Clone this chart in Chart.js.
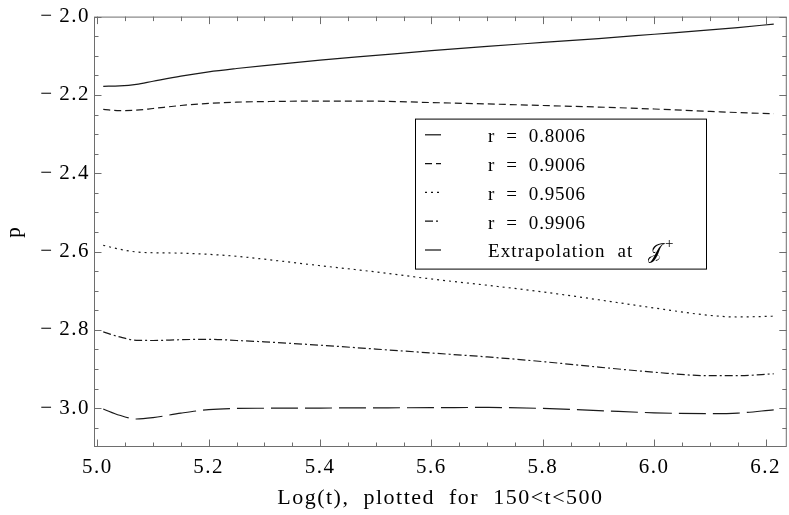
<!DOCTYPE html>
<html>
<head>
<meta charset="utf-8">
<script src="https://cdn.jsdelivr.net/npm/chart.js@4.4.1/dist/chart.umd.min.js"></script>
<style>
  html, body { margin: 0; padding: 0; background: #fff; }
</style>
</head>
<body>
<canvas id="pChart" width="789" height="515"></canvas>
<script>
// Log(t) sample points, 150 < t < 500
const logT = [5.0106, 5.04, 5.07, 5.10, 5.15, 5.20, 5.25, 5.30, 5.40, 5.50, 5.60, 5.70, 5.80, 5.90, 6.00, 6.10, 6.15, 6.2146]

// p at each radius
const pR08006 = [-2.178, -2.177, -2.173, -2.165, -2.152, -2.141, -2.1325, -2.125, -2.111, -2.099, -2.087, -2.076, -2.066, -2.056, -2.045, -2.034, -2.028, -2.019]
const pR09006 = [-2.237, -2.240, -2.239, -2.2347, -2.227, -2.2215, -2.2185, -2.217, -2.2157, -2.216, -2.2195, -2.223, -2.227, -2.231, -2.236, -2.242, -2.245, -2.248]
const pR09506 = [-2.584, -2.594, -2.601, -2.603, -2.604, -2.607, -2.612, -2.6195, -2.636, -2.652, -2.670, -2.686, -2.703, -2.723, -2.744, -2.763, -2.767, -2.765]
const pR09906 = [-2.805, -2.818, -2.8265, -2.827, -2.825, -2.824, -2.827, -2.8305, -2.839, -2.849, -2.859, -2.869, -2.881, -2.895, -2.908, -2.917, -2.917, -2.912]
const pScri = [-3.002, -3.018, -3.0275, -3.024, -3.0125, -3.0035, -3.0005, -3.000, -2.9995, -2.999, -2.9985, -2.998, -3.0005, -3.006, -3.0117, -3.014, -3.0125, -3.004]

const seriesLabels = ['r  =  0.8006', 'r  =  0.9006', 'r  =  0.9506', 'r  =  0.9906', 'Extrapolation  at  ']
const seriesDashes = [[], [7, 4], [2, 4], [8, 3, 2, 3], [27, 7]]
const seriesValues = [pR08006, pR09006, pR09506, pR09906, pScri]

const serif = '"Liberation Serif", "Times New Roman", serif'

function toPoints(values) {
  return logT.map((x, i) => ({ x: x, y: values[i] }))
}

// Mathematica-ish text is a bit wider than plain Times
const wideText = {
  id: 'wideText',
  beforeUpdate(chart) { chart.ctx.letterSpacing = '1.5px' },
  beforeDraw(chart) { chart.ctx.letterSpacing = '1.5px' }
}

// frame on all four sides with inward major/minor ticks
const frameTicks = {
  id: 'frameTicks',
  afterDatasetsDraw(chart) {
    const { ctx, chartArea: a, scales: { x, y } } = chart
    ctx.save()
    ctx.strokeStyle = '#6e6e6e'
    ctx.lineWidth = 1
    ctx.setLineDash([])
    ctx.strokeRect(a.left + 0.5, a.top + 0.5, a.right - a.left - 1, a.bottom - a.top - 1)
    ctx.beginPath()
    for (let i = 0; i <= 24; i++) {
      const px = Math.round(x.getPixelForValue(5.0 + i * 0.05)) + 0.5
      const len = i % 4 === 0 ? 7.5 : 4.5
      ctx.moveTo(px, a.bottom); ctx.lineTo(px, a.bottom - len)
      ctx.moveTo(px, a.top); ctx.lineTo(px, a.top + len)
    }
    for (let i = 0; i <= 21; i++) {
      const py = Math.round(y.getPixelForValue(-3.05 + i * 0.05)) + 0.5
      const len = (i - 1) % 4 === 0 ? 7.5 : 4.5
      ctx.moveTo(a.left, py); ctx.lineTo(a.left + len, py)
      ctx.moveTo(a.right, py); ctx.lineTo(a.right - len, py)
    }
    ctx.stroke()
    ctx.restore()
  }
}

// boxed legend inside the plot
const boxLegend = {
  id: 'boxLegend',
  afterDraw(chart) {
    const { ctx, chartArea: a } = chart
    const left = a.left + 321, top = a.top + 102, w = 291, h = 150
    ctx.save()
    ctx.fillStyle = '#fff'
    ctx.fillRect(left, top, w, h)
    ctx.strokeStyle = '#000'
    ctx.lineWidth = 1
    ctx.setLineDash([])
    ctx.strokeRect(left + 0.5, top + 0.5, w, h)
    chart.data.datasets.forEach((ds, i) => {
      const cy = top + 18.7 + i * 28.8
      ctx.strokeStyle = '#111'
      ctx.lineWidth = 1.2
      ctx.setLineDash(ds.borderDash)
      ctx.beginPath()
      ctx.moveTo(left + 10, cy - 2.5)
      ctx.lineTo(left + 26, cy - 2.5)
      ctx.stroke()
      ctx.setLineDash([])
      ctx.fillStyle = '#000'
      ctx.font = '19px ' + serif
      ctx.letterSpacing = i === seriesLabels.length - 1 ? '1.1px' : '0.8px'
      ctx.textBaseline = 'middle'
      ctx.fillText(ds.label, left + 73, cy)
      if (i === seriesLabels.length - 1) {
        const tx = left + 73 + ctx.measureText(ds.label).width + 3
        ctx.letterSpacing = '0px'
        ctx.font = '20px "DejaVu Serif", "DejaVu Sans", serif'
        ctx.fillText('\u{1D4A5}', tx, cy)
        const jw = ctx.measureText('\u{1D4A5}').width
        ctx.font = '15px ' + serif
        ctx.fillText('+', tx + jw + 3, cy - 8)
      }
    })
    ctx.restore()
  }
}

const ctxP = document.getElementById('pChart')

new Chart(ctxP, {
  type: 'line',
  data: {
    datasets: seriesValues.map((vals, i) => ({
      label: seriesLabels[i],
      data: toPoints(vals),
      borderColor: '#1a1a1a',
      borderWidth: 1.2,
      borderDash: seriesDashes[i],
      pointRadius: 0,
      fill: false,
      cubicInterpolationMode: 'monotone'
    }))
  },
  options: {
    responsive: false,
    animation: false,
    layout: { padding: { top: 16, right: 0, bottom: 0, left: 0 } },
    font: { family: serif },
    plugins: {
      legend: { display: false },
      tooltip: { enabled: false }
    },
    scales: {
      x: {
        type: 'linear',
        min: 4.994,
        max: 6.238,
        afterFit(s) { s.height = 68 },
        grid: { display: false, drawTicks: false },
        border: { display: false },
        ticks: {
          stepSize: 0.2,
          includeBounds: false,
          padding: 8,
          maxRotation: 0,
          autoSkip: false,
          color: '#000',
          font: { family: serif, size: 21 },
          callback: (v) => v.toFixed(1)
        },
        title: {
          display: true,
          text: 'Log(t),  plotted  for  150<t<500',
          color: '#000',
          font: { family: serif, size: 22 },
          padding: { top: 0, bottom: 4 }
        }
      },
      y: {
        type: 'linear',
        min: -3.099,
        max: -2.0,
        afterFit(s) { s.width = 94 },
        grid: { display: false, drawTicks: false },
        border: { display: false },
        ticks: {
          stepSize: 0.2,
          includeBounds: false,
          padding: 4,
          color: '#000',
          font: { family: serif, size: 21 },
          callback: (v) => (v < 0 ? '\u2212\u2009' : '') + Math.abs(v).toFixed(1)
        },
        title: {
          display: true,
          text: 'p',
          color: '#000',
          font: { family: serif, size: 21 },
          padding: { top: 2, bottom: 0 }
        }
      }
    }
  },
  plugins: [wideText, frameTicks, boxLegend]
})
</script>
</body>
</html>
